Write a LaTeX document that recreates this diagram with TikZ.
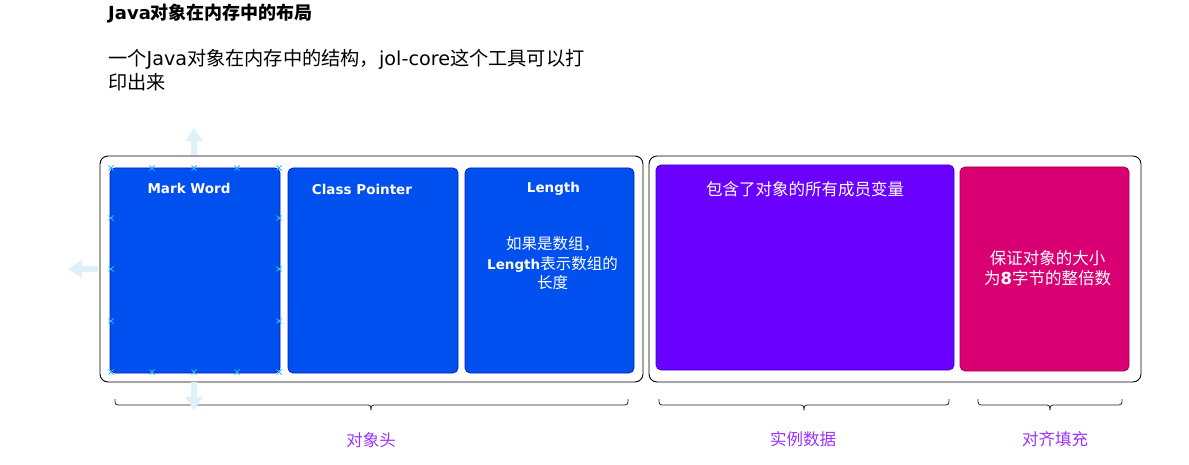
\documentclass[tikz,border=0pt]{standalone}
\usepackage{fontspec}
\setmainfont{Noto Sans CJK SC}
\newfontfamily\lat{DejaVu Sans}
\definecolor{bluef}{HTML}{0050EF}
\definecolor{blues}{HTML}{001DBC}
\definecolor{purf}{HTML}{6A00FF}
\definecolor{purs}{HTML}{3700CC}
\definecolor{pinkf}{HTML}{D80073}
\definecolor{pinks}{HTML}{A50040}
\definecolor{lbl}{HTML}{9933FF}
\definecolor{hnd}{HTML}{DDF1FB}
\definecolor{hx}{HTML}{29B6F2}
\begin{document}
\begin{tikzpicture}[x=1pt,y=-1pt,
  outer/.style={draw=black,line width=0.9pt,rounded corners=8pt,inner sep=0pt},
  cbox/.style={rounded corners=5pt,line width=0.7pt,inner sep=0pt},
  bluebox/.style={cbox,fill=bluef,draw=blues},
  purbox/.style={cbox,fill=purf,draw=purs},
  pinkbox/.style={cbox,fill=pinkf,draw=pinks},
  wlabel/.style={text=white,font=\lat\bfseries\fontsize{13.5}{16}\selectfont,inner sep=0pt},
  wtext/.style={text=white,align=center,inner sep=0pt},
  plabel/.style={text=lbl,font=\fontsize{16.5}{18}\selectfont,inner sep=0pt},
  brace/.style={draw=black!85,line width=0.8pt,rounded corners=3pt},
  hmark/.style={draw=hx,line width=0.9pt},
  harrow/.style={fill=hnd,draw=none}
]
\useasboundingbox (0,0) rectangle (1189,465);

% title and subtitle
\node[anchor=west,inner sep=0pt,font=\bfseries\fontsize{18}{20}\selectfont] (title) at (108,14) {{\lat Java}对象在内存中的布局};
\node[anchor=north west,inner sep=0pt,align=left,font=\fontsize{19.2}{24}\selectfont] (sub) at (108,49) {一个{\lat Java}对象在内存中的结构，{\lat jol-core}这个工具可以打\\印出来};

% outer containers
\node[outer,minimum width=543pt,minimum height=226pt] (hdr) at (371.5,269) {};
\node[outer,minimum width=492pt,minimum height=226pt] (body) at (895,269) {};

% header boxes
\node[bluebox,minimum width=170pt,minimum height=205pt] (mw) at (195,270.5) {};
\node[bluebox,minimum width=170pt,minimum height=205pt] (cp) at (373,270.5) {};
\node[bluebox,minimum width=169pt,minimum height=205pt] (len) at (549.5,270.5) {};
\node[wlabel] (mwl) at ([xshift=-6,yshift=-21]mw.north) {Mark Word};
\node[wlabel] (cpl) at ([xshift=-11,yshift=-22]cp.north) {Class Pointer};
\node[wlabel] (lenl) at ([xshift=4,yshift=-21]len.north) {Length};
\node[wtext,font=\fontsize{15.5}{19.5}\selectfont] (lent) at ([xshift=3,yshift=7]len.center) {如果是数组，\\{\lat\bfseries\fontsize{13.5}{19.5}\selectfont Length}表示数组的\\长度};

% instance data and padding
\node[purbox,minimum width=298pt,minimum height=205pt] (inst) at (805,267.5) {};
\node[wtext,font=\fontsize{16.5}{18}\selectfont] (instl) at ([yshift=-25]inst.north) {包含了对象的所有成员变量};
\node[pinkbox,minimum width=169pt,minimum height=204pt] (pad) at (1044.5,269) {};
\node[wtext,font=\fontsize{16.5}{20}\selectfont] (padt) at ([xshift=3,yshift=1]pad.center) {保证对象的大小\\为{\lat\bfseries 8}字节的整倍数};

% braces
\foreach \l/\m/\r/\n in {115/371/628/1,659/804/949/2,978/1050/1122/3}{
  \coordinate (bl\n) at (\l,399);
  \coordinate (bm\n) at (\m,410);
  \coordinate (br\n) at (\r,399);
  \draw[brace] (bl\n) -- (\l,405) -- (\m,405) -- (bm\n);
  \draw[brace] (bm\n) -- (\m,405) -- (\r,405) -- (br\n);
}
\node[plabel] (l1) at (371,440) {对象头};
\node[plabel] (l2) at (803,439) {实例数据};
\node[plabel] (l3) at (1055,439) {对齐填充};

% selection handles (editor overlay)
\fill[harrow] (191,155) -- (191,141) -- (185,141) -- (194,128) -- (203,141) -- (197,141) -- (197,155) -- cycle;
\fill[harrow] (98,266) -- (82,266) -- (82,260) -- (68,269) -- (82,278) -- (82,272) -- (98,272) -- cycle;
\fill[harrow] (191,382) -- (191,397) -- (185,397) -- (194,410) -- (203,397) -- (197,397) -- (197,382) -- cycle;
\foreach \p in {(111,168),(152,168),(194,168),(237,168),(279,168),
                (111,372),(152,372),(194,372),(237,372),(279,372),
                (111,218),(111,269),(111,321),(279,218),(279,269),(279,321)}{
  \draw[hmark] \p ++(-2.5,-2.5) -- ++(5,5) \p ++(-2.5,2.5) -- ++(5,-5);
}
\end{tikzpicture}
\end{document}
